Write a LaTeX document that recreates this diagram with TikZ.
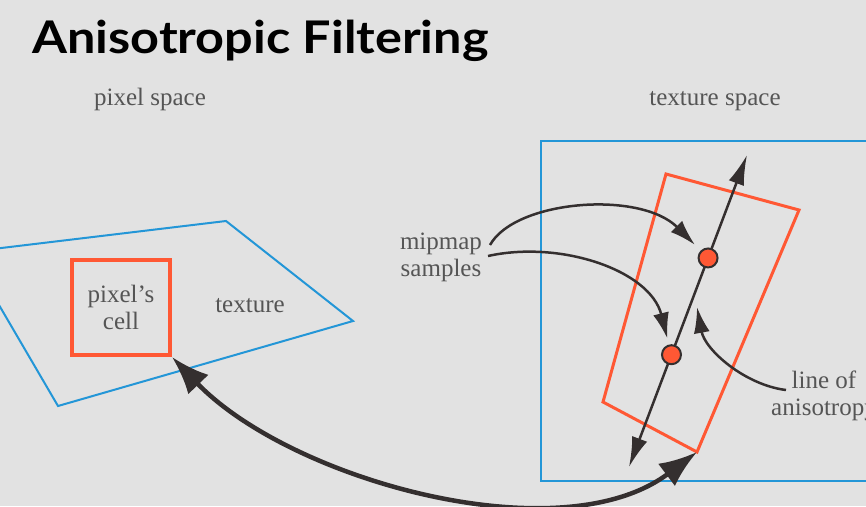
\documentclass[tikz,border=0pt]{standalone}
\usepackage{fontspec}
\setmainfont{Liberation Serif}
\newfontfamily\titlefont{Lato}
\usetikzlibrary{arrows.meta,positioning}
\definecolor{slidebg}{RGB}{226,226,226}
\definecolor{texblue}{RGB}{35,150,215}
\definecolor{cellred}{RGB}{255,88,52}
\definecolor{arrowgray}{RGB}{52,47,47}
\definecolor{labelgray}{RGB}{85,85,85}

\begin{document}
\begin{tikzpicture}[x=1pt, y=-1pt,
    label text/.style={text=labelgray, font=\fontsize{25}{27}\selectfont, align=center, inner sep=0pt},
    blue outline/.style={draw=texblue, line width=2pt},
    red outline/.style={draw=cellred, line width=3pt, line join=miter},
    pointer/.style={draw=arrowgray, line width=2.5pt, -{Latex[length=26pt,width=16pt]}},
    sample dot/.style={circle, draw=arrowgray, fill=cellred, line width=2pt, minimum size=19pt, inner sep=0pt}
]
    \fill[slidebg] (0,0) rectangle (866,506);
    \useasboundingbox (0,0) rectangle (866,506);
    \clip (0,0) rectangle (866,506);

    \node[anchor=base west, inner sep=0pt, font=\titlefont\bfseries\fontsize{45}{48}\selectfont] (title) at (32,53) {\scalebox{1.12}[1]{Anisotropic Filtering}};
    \node[label text, anchor=base] (pixspace) at (150,105) {pixel space};
    \node[label text, anchor=base] (texspace) at (715,105) {texture space};

    % pixel space
    \draw[blue outline] (-32,252) -- (226,221) -- (353,321) -- (58,406) -- cycle;
    \node[label text, draw=cellred, line width=4pt, minimum width=98pt, minimum height=95pt] (cell) at (121,307.5) {pixel's\\cell};
    \node[label text, anchor=base] (texture) at (250,312) {texture};

    % texture space
    \draw[blue outline] (541,141) rectangle (900,481);
    \coordinate (r1) at (666,174);
    \coordinate (r2) at (799,210);
    \coordinate (r3) at (697,452);
    \coordinate (r4) at (603,402);
    \draw[red outline] (r1) -- (r2) -- (r3) -- (r4) -- cycle;

    \coordinate (axbot) at (629,467);
    \coordinate (axtop) at (747,155);
    \draw[pointer, {Latex[length=30pt,width=16pt]}-{Latex[length=30pt,width=16pt]}] (axbot) -- (axtop)
        node[sample dot, pos=0.36] (lower) {}
        node[sample dot, pos=0.67] (upper) {};

    \node[label text, anchor=base] (mipmap) at (441,276) {mipmap\\samples};
    \coordinate (mipA) at (490,245);
    \coordinate (mipB) at (488,256);
    \draw[pointer, shorten >=8pt] (mipA) .. controls (515,200) and (640,190) .. (upper);
    \draw[pointer, shorten >=6pt] (mipB) .. controls (560,240) and (650,270) .. (lower);

    \node[label text, anchor=base] (aniso) at (824,415) {line of\\anisotropy};
    \coordinate (anisostart) at (786,390);
    \coordinate (anisotip) at (697,307);
    \draw[pointer] (anisostart) .. controls (745,385) and (705,350) .. (anisotip);

    \draw[draw=arrowgray, line width=4.5pt, {Latex[length=38pt,width=28pt]}-{Latex[length=38pt,width=28pt]}]
        (cell.south east) .. controls (290,480) and (560,555) .. (r3);
\end{tikzpicture}
\end{document}
